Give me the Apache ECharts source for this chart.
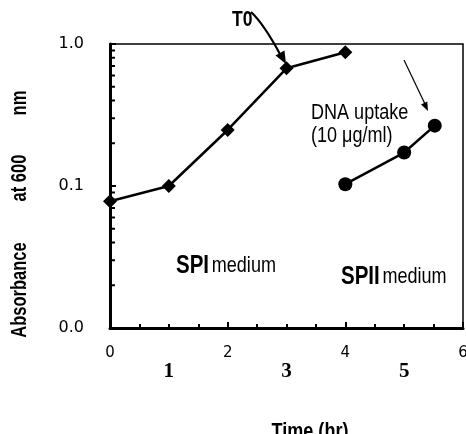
<!DOCTYPE html>
<html>
<head>
<meta charset="utf-8">
<script src="https://cdn.jsdelivr.net/npm/echarts@6/dist/echarts.min.js"></script>
<style>html,body{margin:0;padding:0;background:#fff;}#c{width:466px;height:434px;}</style>
</head>
<body>
<div id="c"></div>
<script>
// Data
const spiTimes = [0, 1, 2, 3, 4];
const spiAbs = [0.078, 0.1, 0.248, 0.674, 0.874];
const spiiTimes = [4, 5, 5.52];
const spiiAbs = [0.103, 0.172, 0.266];
const yTickLabels = ['0.0', '0.1', '1.0'];
const xTickLabels = ['0', '2', '4', '6'];
const xSecondLabels = ['1', '3', '5'];
const yMinorTicks = [0.02,0.03,0.04,0.05,0.06,0.07,0.08,0.09,0.2,0.3,0.4,0.5,0.6,0.7,0.8,0.9];

const SANS = '"Liberation Sans",Arial,sans-serif';
const SX = 0.82; // condensed look
const chart = echarts.init(document.getElementById('c'), null, {renderer: 'canvas'});

const option = {
  backgroundColor: '#fff',
  animation: false,
  grid: {left: 110, right: 3, top: 44, bottom: 106, show: true, borderColor: '#000', borderWidth: 1.5,
         backgroundColor: 'transparent', outerBoundsMode: 'none', containLabel: false},
  xAxis: [{
    type: 'value', min: 0, max: 6, interval: 2,
    axisLine: {show: true, onZero: false, lineStyle: {color: '#000', width: 3}},
    axisTick: {show: true, inside: true, length: 6, lineStyle: {color: '#000', width: 2}},
    minorTick: {show: true, splitNumber: 4, length: 4, lineStyle: {color: '#000', width: 2}},
    splitLine: {show: false},
    axisLabel: {
      margin: 18, color: '#000', fontFamily: '"DejaVu Sans",sans-serif', fontSize: 15, hideOverlap: false,
      showMinLabel: true, showMaxLabel: true,
      formatter: v => { const i = xTickLabels.indexOf(String(v)); return i >= 0 ? xTickLabels[i] : ''; }
    }
  }, {
    type: 'value', min: 0, max: 6, interval: 1, position: 'bottom', offset: 15,
    axisLine: {show: false}, axisTick: {show: false}, splitLine: {show: false},
    axisLabel: {
      margin: 18, color: '#000', fontFamily: '"Liberation Serif","Times New Roman",serif', fontWeight: 'bold', fontSize: 21,
      formatter: v => { const i = xSecondLabels.indexOf(String(v)); return i >= 0 ? xSecondLabels[i] : ''; }
    }
  }],
  yAxis: {
    type: 'log', logBase: 10, min: 0.01, max: 1,
    axisLine: {show: true, lineStyle: {color: '#000', width: 3}},
    axisTick: {show: true, inside: true, length: 6, lineStyle: {color: '#000', width: 2}},
    minorTick: {show: false},
    splitLine: {show: false},
    axisLabel: {
      margin: 26, color: '#000', fontFamily: '"DejaVu Sans",sans-serif', fontSize: 16,
      formatter: v => {
        const idx = Math.round(Math.log10(v)) + 2;
        return yTickLabels[idx] !== undefined ? yTickLabels[idx] : '';
      }
    }
  },
  series: [{
    type: 'custom', silent: true, z: 5, clip: false,
    data: yMinorTicks.map(v => [0, v]),
    renderItem: (params, api) => {
      const p = api.coord([0, api.value(1)]);
      return {type: 'line', shape: {x1: p[0], y1: p[1], x2: p[0] + 5, y2: p[1]}, style: {stroke: '#000', lineWidth: 2}};
    }
  }, {
    type: 'line', name: 'SPI', data: spiTimes.map((t, i) => [t, spiAbs[i]]),
    symbol: 'diamond', symbolSize: 14, showSymbol: true, clip: false,
    lineStyle: {color: '#000', width: 2.5}, itemStyle: {color: '#000'}, z: 10
  }, {
    type: 'line', name: 'SPII', data: spiiTimes.map((t, i) => [t, spiiAbs[i]]),
    symbol: 'circle', symbolSize: 14, showSymbol: true, clip: false,
    lineStyle: {color: '#000', width: 2.5}, itemStyle: {color: '#000'}, z: 10
  }],
  graphic: [
    // T0 label and curved arrow
    {type: 'text', x: 232, y: 20, scaleX: 0.8, style: {text: 'T0', font: 'bold 22px ' + SANS, fill: '#000', verticalAlign: 'middle'}},
    {type: 'bezierCurve', shape: {x1: 251, y1: 12, cpx1: 264, cpy1: 24, x2: 281, y2: 56}, style: {stroke: '#000', lineWidth: 2.2, fill: null}},
    {type: 'polygon', shape: {points: [[286, 64], [275.5, 55.5], [284.5, 50.5]]}, style: {fill: '#000'}},
    // DNA uptake arrow
    {type: 'line', shape: {x1: 404, y1: 60, x2: 425, y2: 104}, style: {stroke: '#000', lineWidth: 1.2}},
    {type: 'polygon', shape: {points: [[428, 111], [421, 104.4], [427.3, 101.4]]}, style: {fill: '#000'}},
    {type: 'text', x: 311, y: 113, scaleX: SX, style: {text: 'DNA uptake', font: '22px ' + SANS, fill: '#000', verticalAlign: 'middle'}},
    {type: 'text', x: 311, y: 136, scaleX: SX, style: {text: '(10 \u03bcg/ml)', font: '22px ' + SANS, fill: '#000', verticalAlign: 'middle'}},
    {type: 'text', x: 176, y: 266, scaleX: SX, style: {
      text: '{b|SPI} {r|medium}', verticalAlign: 'middle',
      rich: {b: {font: 'bold 25px ' + SANS, fill: '#000'}, r: {font: '22px ' + SANS, fill: '#000'}}
    }},
    {type: 'text', x: 341, y: 277, scaleX: SX, style: {
      text: '{b|SPII} {r|medium}', verticalAlign: 'middle',
      rich: {b: {font: 'bold 25px ' + SANS, fill: '#000'}, r: {font: '22px ' + SANS, fill: '#000'}}
    }},
    // Y-axis title parts
    {type: 'text', x: 20, y: 290, rotation: Math.PI / 2, scaleX: 0.75, style: {text: 'Absorbance', font: 'bold 22px ' + SANS, fill: '#000', align: 'center', verticalAlign: 'middle'}},
    {type: 'text', x: 20, y: 178, rotation: Math.PI / 2, scaleX: 0.75, style: {text: 'at 600', font: 'bold 22px ' + SANS, fill: '#000', align: 'center', verticalAlign: 'middle'}},
    {type: 'text', x: 20, y: 103, rotation: Math.PI / 2, scaleX: 0.75, style: {text: 'nm', font: 'bold 22px ' + SANS, fill: '#000', align: 'center', verticalAlign: 'middle'}},
    // X-axis title (cut at bottom)
    {type: 'text', x: 310, y: 421, scaleX: SX, style: {text: 'Time (hr)', font: 'bold 22px ' + SANS, fill: '#000', align: 'center', verticalAlign: 'top'}}
  ]
};
chart.setOption(option);
</script>
</body>
</html>
